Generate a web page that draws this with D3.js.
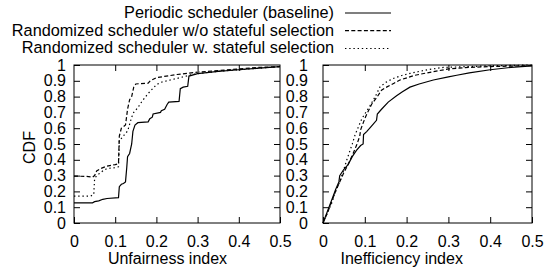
<!DOCTYPE html>
<html>
<head>
<meta charset="utf-8">
<script src="https://cdn.jsdelivr.net/npm/d3@7"></script>
<style>
  body { margin: 0; background: #fff; }
  text { font-family: "Liberation Sans", Arial, sans-serif; font-size: 16px; fill: #000; }
  .legend text { font-size: 16.3px; }
</style>
</head>
<body>
<div id="chart"></div>
<script>
var svgWidth = 555;
var svgHeight = 269;

var seriesNames = [
  "Periodic scheduler (baseline)",
  "Randomized scheduler w/o stateful selection",
  "Randomized scheduler w. stateful selection"
];
var dashStyles = ["none", "4,2.3", "1.4,2.8"];

var xTicks = [0, 0.1, 0.2, 0.3, 0.4, 0.5];
var xTickLabels = ["0", "0.1", "0.2", "0.3", "0.4", "0.5"];
var yTicks = [0, 0.1, 0.2, 0.3, 0.4, 0.5, 0.6, 0.7, 0.8, 0.9, 1];
var yTickLabels = ["0", "0.1", "0.2", "0.3", "0.4", "0.5", "0.6", "0.7", "0.8", "0.9", "1"];

// unfairness index CDFs
var unfairPeriodic = [[0,0.128],[0.045,0.128],[0.05,0.135],[0.06,0.14],[0.07,0.15],[0.08,0.155],[0.108,0.16],[0.11,0.23],[0.115,0.245],[0.12,0.25],[0.125,0.26],[0.128,0.35],[0.13,0.42],[0.135,0.44],[0.14,0.5],[0.143,0.58],[0.148,0.62],[0.155,0.635],[0.18,0.64],[0.184,0.66],[0.19,0.67],[0.192,0.69],[0.21,0.70],[0.212,0.71],[0.22,0.72],[0.226,0.75],[0.23,0.765],[0.255,0.77],[0.258,0.85],[0.265,0.86],[0.276,0.865],[0.279,0.93],[0.3,0.945],[0.35,0.96],[0.4,0.97],[0.45,0.98],[0.5,0.99]];
var unfairRandom = [[0,0.297],[0.03,0.295],[0.045,0.29],[0.05,0.30],[0.055,0.33],[0.065,0.345],[0.08,0.36],[0.1,0.37],[0.108,0.375],[0.11,0.55],[0.115,0.6],[0.12,0.61],[0.125,0.62],[0.13,0.72],[0.135,0.78],[0.14,0.8],[0.145,0.86],[0.15,0.88],[0.18,0.885],[0.185,0.9],[0.2,0.92],[0.25,0.94],[0.3,0.955],[0.35,0.965],[0.4,0.975],[0.45,0.985],[0.5,0.99]];
var unfairStateful = [[0,0.17],[0.04,0.17],[0.048,0.18],[0.05,0.28],[0.055,0.3],[0.07,0.33],[0.08,0.345],[0.1,0.35],[0.108,0.356],[0.11,0.52],[0.12,0.55],[0.125,0.57],[0.13,0.58],[0.14,0.67],[0.145,0.7],[0.155,0.73],[0.165,0.77],[0.18,0.82],[0.2,0.875],[0.21,0.89],[0.25,0.915],[0.28,0.935],[0.3,0.945],[0.35,0.96],[0.4,0.97],[0.45,0.98],[0.5,0.99]];

// inefficiency index CDFs
var ineffPeriodic = [[0,0],[0.01,0.07],[0.02,0.14],[0.03,0.21],[0.038,0.26],[0.04,0.30],[0.05,0.34],[0.06,0.37],[0.07,0.42],[0.08,0.46],[0.09,0.49],[0.096,0.5],[0.097,0.56],[0.105,0.58],[0.115,0.61],[0.128,0.65],[0.13,0.69],[0.14,0.72],[0.156,0.765],[0.176,0.805],[0.19,0.83],[0.208,0.86],[0.23,0.88],[0.264,0.905],[0.3,0.925],[0.32,0.935],[0.35,0.95],[0.4,0.97],[0.45,0.985],[0.5,0.994]];
var ineffRandom = [[0,0],[0.01,0.06],[0.02,0.13],[0.03,0.2],[0.04,0.26],[0.05,0.32],[0.06,0.37],[0.072,0.44],[0.08,0.49],[0.088,0.55],[0.09,0.59],[0.1,0.66],[0.105,0.69],[0.116,0.75],[0.13,0.8],[0.14,0.84],[0.152,0.86],[0.17,0.885],[0.184,0.905],[0.22,0.935],[0.264,0.958],[0.3,0.975],[0.35,0.985],[0.4,0.99],[0.5,0.996]];
var ineffStateful = [[0,0],[0.01,0.06],[0.02,0.12],[0.03,0.2],[0.04,0.26],[0.05,0.34],[0.057,0.4],[0.07,0.5],[0.077,0.56],[0.085,0.61],[0.093,0.66],[0.1,0.69],[0.112,0.74],[0.125,0.8],[0.136,0.86],[0.15,0.89],[0.168,0.915],[0.19,0.935],[0.208,0.947],[0.25,0.97],[0.288,0.985],[0.35,0.99],[0.4,0.995],[0.5,1.0]];

var panels = [
  { left: 74, right: 280, yPad: 8, title: "Unfairness index", titleX: 167.5, series: [unfairPeriodic, unfairRandom, unfairStateful] },
  { left: 323, right: 532, yPad: 15, title: "Inefficiency index", titleX: 401.7, series: [ineffPeriodic, ineffRandom, ineffStateful] }
];
var plotTop = 65, plotBottom = 223;

var svg = d3.select("#chart")
  .append("svg")
  .attr("width", svgWidth)
  .attr("height", svgHeight)
  .style("background", "#fff");

var yScale = d3.scaleLinear().domain([0, 1]).range([plotBottom, plotTop]);

panels.forEach(function(p) {
  var xScale = d3.scaleLinear().domain([0, 0.5]).range([p.left, p.right]);
  var g = svg.append("g");

  var bottomAxis = d3.axisBottom(xScale).tickValues(xTicks)
    .tickFormat(function(d, i) { return xTickLabels[i]; })
    .tickSizeInner(-6).tickSizeOuter(0).tickPadding(13);
  var topAxis = d3.axisTop(xScale).tickValues(xTicks.slice(1, -1))
    .tickFormat("").tickSizeInner(-6).tickSizeOuter(0);
  var leftAxis = d3.axisLeft(yScale).tickValues(yTicks)
    .tickFormat(function(d, i) { return yTickLabels[i]; })
    .tickSizeInner(-6).tickSizeOuter(0).tickPadding(p.yPad);
  var rightAxis = d3.axisRight(yScale).tickValues(yTicks.slice(1, -1))
    .tickFormat("").tickSizeInner(-6).tickSizeOuter(0);

  g.append("g").attr("transform", "translate(0," + plotBottom + ")").call(bottomAxis);
  g.append("g").attr("transform", "translate(0," + plotTop + ")").call(topAxis);
  g.append("g").attr("transform", "translate(" + p.left + ",0)").call(leftAxis);
  g.append("g").attr("transform", "translate(" + p.right + ",0)").call(rightAxis);

  g.selectAll(".domain").remove();
  g.selectAll(".tick line").attr("stroke", "#000").attr("stroke-width", 1);

  var line = d3.line()
    .x(function(d) { return xScale(d[0]); })
    .y(function(d) { return yScale(d[1]); });

  p.series.forEach(function(s, i) {
    g.append("path")
      .datum(s)
      .attr("d", line)
      .attr("fill", "none")
      .attr("stroke", "#000")
      .attr("stroke-width", 1.2)
      .attr("stroke-dasharray", dashStyles[i]);
  });

  g.append("rect")
    .attr("x", p.left)
    .attr("y", plotTop)
    .attr("width", p.right - p.left)
    .attr("height", plotBottom - plotTop)
    .attr("fill", "none")
    .attr("stroke", "#000")
    .attr("stroke-width", 1);

  svg.append("text")
    .attr("x", p.titleX)
    .attr("y", 263.5)
    .attr("text-anchor", "middle")
    .text(p.title);
});

svg.append("text")
  .attr("transform", "translate(35,147.5) rotate(-90)")
  .attr("text-anchor", "middle")
  .text("CDF");

// legend
var legend = svg.append("g").attr("class", "legend");
var legendRows = [13, 30.7, 48.5];
seriesNames.forEach(function(name, i) {
  legend.append("text")
    .attr("x", 334)
    .attr("y", legendRows[i] + 4.8)
    .attr("text-anchor", "end")
    .text(name);
  legend.append("line")
    .attr("x1", 345).attr("x2", 391)
    .attr("y1", legendRows[i]).attr("y2", legendRows[i])
    .attr("stroke", "#000")
    .attr("stroke-width", 1.2)
    .attr("stroke-dasharray", dashStyles[i]);
});
</script>
</body>
</html>
